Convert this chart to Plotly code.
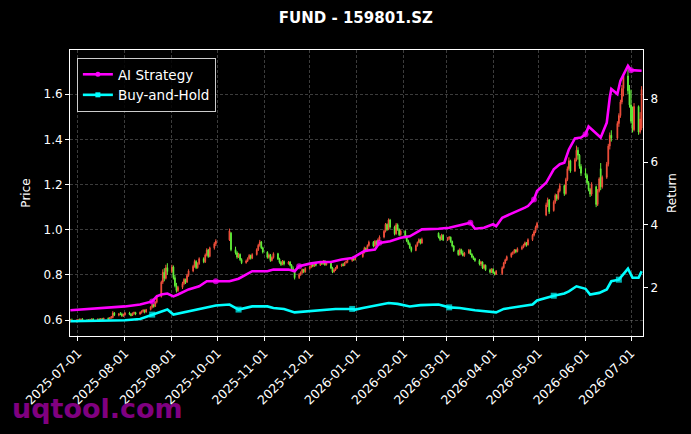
import plotly.graph_objects as go
import pandas as pd

# trading days (exchange holidays removed)
holidays = ["2025-10-01", "2025-10-02", "2025-10-03", "2025-10-06", "2025-10-07", "2025-10-08",
            "2026-01-01", "2026-01-02",
            "2026-02-16", "2026-02-17", "2026-02-18", "2026-02-19", "2026-02-20", "2026-02-23",
            "2026-04-06", "2026-05-01", "2026-05-04", "2026-05-05", "2026-06-19"]
days = pd.bdate_range("2025-06-26", "2026-07-08")
days = days[~days.isin(pd.to_datetime(holidays))]

opens = [
    0.597, 0.601, 0.596,
    0.599, 0.602, 0.598, 0.604, 0.600, 0.596, 0.602, 0.599, 0.605, 0.601, 0.604, 0.600, 0.606, 0.603, 0.608, 0.605, 0.611, 0.612, 0.632, 0.622, 0.628, 0.627, 0.619,
    0.624, 0.631, 0.626, 0.621, 0.630, 0.634, 0.627, 0.635, 0.640, 0.644, 0.636, 0.647, 0.658, 0.669, 0.661, 0.679, 0.705, 0.768, 0.812, 0.785, 0.832,
    0.815, 0.835, 0.788, 0.752, 0.731, 0.745, 0.762, 0.780, 0.768, 0.798, 0.818, 0.838, 0.860, 0.832, 0.850, 0.872, 0.858, 0.888, 0.910, 0.882, 0.920, 0.938,
    0.955, 0.985, 0.912, 0.898, 0.879, 0.891, 0.868, 0.854, 0.862, 0.872, 0.886, 0.874, 0.890, 0.912, 0.931, 0.946, 0.920,
    0.901, 0.878, 0.889, 0.864, 0.877, 0.894, 0.871, 0.856, 0.846, 0.860, 0.849, 0.857, 0.843, 0.828, 0.818, 0.788, 0.802, 0.811, 0.824, 0.814,
    0.829, 0.835, 0.846, 0.839, 0.850, 0.843, 0.856, 0.849, 0.862, 0.845, 0.855, 0.831, 0.814, 0.822, 0.830, 0.841, 0.846, 0.842, 0.855, 0.860, 0.864, 0.871, 0.868,
    0.881, 0.900, 0.918, 0.907, 0.930, 0.945, 0.928, 0.949, 0.937, 0.956, 0.968, 0.993, 1.024, 1.001, 1.043, 1.012, 0.982, 1.022, 1.001, 0.978,
    0.994, 0.968, 0.950, 0.938, 0.921, 0.908, 0.930, 0.944, 0.956, 0.941, 0.985, 0.968, 0.957, 0.976,
    0.955, 0.962, 0.967, 0.948, 0.928, 0.908, 0.890, 0.912, 0.896, 0.886, 0.897, 0.909, 0.892, 0.879, 0.872, 0.864, 0.848, 0.857, 0.831, 0.843, 0.823, 0.812,
    0.825, 0.810, 0.803, 0.806, 0.832, 0.853, 0.867, 0.881, 0.895, 0.899, 0.910, 0.903, 0.916, 0.922, 0.932, 0.942, 0.933, 0.956, 0.976, 0.991, 1.010,
    1.065, 1.110, 1.132, 1.085, 1.122, 1.152, 1.138, 1.172, 1.195, 1.160, 1.222, 1.270, 1.305, 1.260, 1.310, 1.352, 1.330, 1.280,
    1.250, 1.240, 1.208, 1.178, 1.158, 1.190, 1.112, 1.172, 1.270, 1.190, 1.232, 1.290, 1.370, 1.418, 1.405, 1.470, 1.505, 1.565, 1.625, 1.680, 1.615,
    1.552, 1.480, 1.442, 1.545, 1.432, 1.450,
]
highs = [
    0.606, 0.607, 0.603,
    0.606, 0.607, 0.608, 0.609, 0.604, 0.605, 0.606, 0.608, 0.609, 0.607, 0.608, 0.609, 0.610, 0.611, 0.612, 0.614, 0.618, 0.640, 0.636, 0.631, 0.636, 0.633, 0.629,
    0.636, 0.637, 0.632, 0.634, 0.638, 0.637, 0.638, 0.643, 0.648, 0.647, 0.650, 0.662, 0.674, 0.672, 0.684, 0.712, 0.775, 0.825, 0.830, 0.845, 0.852,
    0.845, 0.842, 0.800, 0.765, 0.752, 0.770, 0.786, 0.784, 0.805, 0.825, 0.845, 0.868, 0.865, 0.856, 0.878, 0.878, 0.895, 0.918, 0.915, 0.925, 0.945, 0.958,
    1.005, 0.990, 0.925, 0.905, 0.898, 0.895, 0.874, 0.868, 0.878, 0.892, 0.890, 0.896, 0.918, 0.938, 0.955, 0.950, 0.925,
    0.905, 0.895, 0.893, 0.882, 0.900, 0.898, 0.876, 0.862, 0.866, 0.864, 0.862, 0.861, 0.848, 0.838, 0.822, 0.808, 0.816, 0.828, 0.827, 0.834,
    0.840, 0.850, 0.849, 0.853, 0.853, 0.860, 0.859, 0.866, 0.865, 0.860, 0.858, 0.836, 0.828, 0.835, 0.845, 0.850, 0.853, 0.858, 0.864, 0.868, 0.875, 0.880, 0.886,
    0.905, 0.925, 0.922, 0.935, 0.952, 0.950, 0.955, 0.953, 0.962, 0.975, 1.000, 1.030, 1.028, 1.050, 1.048, 1.018, 1.030, 1.028, 1.006, 1.000,
    0.998, 0.975, 0.956, 0.944, 0.926, 0.935, 0.948, 0.962, 0.960, 0.965, 0.988, 0.975, 0.982, 0.980,
    0.968, 0.972, 0.970, 0.952, 0.932, 0.912, 0.918, 0.916, 0.908, 0.902, 0.915, 0.913, 0.896, 0.885, 0.876, 0.870, 0.862, 0.860, 0.848, 0.846, 0.828, 0.830,
    0.830, 0.815, 0.822, 0.838, 0.858, 0.872, 0.886, 0.900, 0.905, 0.915, 0.914, 0.922, 0.930, 0.938, 0.948, 0.946, 0.962, 0.982, 0.998, 1.018, 1.035,
    1.120, 1.142, 1.136, 1.130, 1.160, 1.158, 1.182, 1.205, 1.200, 1.230, 1.280, 1.320, 1.310, 1.318, 1.372, 1.365, 1.335, 1.290,
    1.272, 1.248, 1.215, 1.185, 1.210, 1.195, 1.180, 1.232, 1.295, 1.240, 1.300, 1.380, 1.430, 1.440, 1.480, 1.515, 1.575, 1.640, 1.690, 1.720, 1.640,
    1.620, 1.545, 1.560, 1.550, 1.520, 1.635,
]
lows = [
    0.590, 0.593, 0.590,
    0.594, 0.595, 0.596, 0.597, 0.592, 0.594, 0.595, 0.597, 0.598, 0.597, 0.598, 0.599, 0.600, 0.601, 0.602, 0.603, 0.606, 0.608, 0.618, 0.617, 0.622, 0.615, 0.614,
    0.620, 0.622, 0.617, 0.619, 0.624, 0.622, 0.624, 0.629, 0.633, 0.630, 0.633, 0.643, 0.652, 0.655, 0.658, 0.674, 0.700, 0.760, 0.772, 0.780, 0.800,
    0.808, 0.780, 0.745, 0.722, 0.725, 0.738, 0.755, 0.760, 0.765, 0.792, 0.812, 0.832, 0.826, 0.828, 0.845, 0.852, 0.853, 0.882, 0.876, 0.878, 0.912, 0.928,
    0.950, 0.905, 0.890, 0.872, 0.875, 0.862, 0.848, 0.850, 0.857, 0.868, 0.868, 0.870, 0.886, 0.906, 0.925, 0.914, 0.895,
    0.872, 0.872, 0.858, 0.860, 0.872, 0.866, 0.850, 0.840, 0.843, 0.842, 0.846, 0.838, 0.822, 0.812, 0.780, 0.782, 0.796, 0.805, 0.808, 0.810,
    0.823, 0.830, 0.834, 0.835, 0.838, 0.840, 0.844, 0.846, 0.840, 0.842, 0.826, 0.808, 0.810, 0.818, 0.826, 0.836, 0.838, 0.839, 0.850, 0.852, 0.858, 0.862, 0.864,
    0.876, 0.895, 0.900, 0.903, 0.925, 0.922, 0.925, 0.932, 0.934, 0.950, 0.962, 0.988, 0.995, 0.998, 1.005, 0.975, 0.978, 0.995, 0.972, 0.974,
    0.962, 0.945, 0.932, 0.915, 0.900, 0.905, 0.925, 0.940, 0.935, 0.938, 0.962, 0.950, 0.954, 0.950,
    0.950, 0.955, 0.942, 0.922, 0.902, 0.885, 0.886, 0.890, 0.882, 0.880, 0.893, 0.888, 0.874, 0.866, 0.858, 0.842, 0.840, 0.826, 0.825, 0.818, 0.806, 0.808,
    0.805, 0.798, 0.800, 0.800, 0.828, 0.848, 0.862, 0.876, 0.888, 0.894, 0.896, 0.900, 0.910, 0.918, 0.926, 0.925, 0.930, 0.950, 0.970, 0.985, 1.004,
    1.060, 1.100, 1.070, 1.080, 1.115, 1.128, 1.132, 1.165, 1.150, 1.155, 1.215, 1.262, 1.252, 1.255, 1.302, 1.310, 1.270, 1.238,
    1.228, 1.200, 1.170, 1.145, 1.150, 1.100, 1.105, 1.165, 1.175, 1.182, 1.225, 1.280, 1.355, 1.390, 1.398, 1.455, 1.495, 1.555, 1.590, 1.600, 1.540,
    1.470, 1.430, 1.435, 1.420, 1.425, 1.440,
]
closes = [
    0.601, 0.596, 0.599,
    0.602, 0.598, 0.604, 0.600, 0.596, 0.602, 0.599, 0.605, 0.601, 0.604, 0.600, 0.606, 0.603, 0.608, 0.605, 0.611, 0.615, 0.632, 0.622, 0.628, 0.625, 0.619, 0.624,
    0.631, 0.626, 0.621, 0.630, 0.634, 0.627, 0.635, 0.640, 0.644, 0.636, 0.647, 0.658, 0.669, 0.661, 0.679, 0.705, 0.768, 0.812, 0.785, 0.832, 0.815,
    0.835, 0.788, 0.752, 0.731, 0.745, 0.762, 0.780, 0.768, 0.798, 0.818, 0.838, 0.860, 0.832, 0.850, 0.872, 0.858, 0.888, 0.910, 0.882, 0.920, 0.938, 0.950,
    0.995, 0.912, 0.898, 0.879, 0.891, 0.868, 0.854, 0.862, 0.872, 0.886, 0.874, 0.890, 0.912, 0.931, 0.946, 0.920, 0.901,
    0.878, 0.889, 0.864, 0.877, 0.894, 0.871, 0.856, 0.846, 0.860, 0.849, 0.857, 0.843, 0.828, 0.818, 0.788, 0.802, 0.811, 0.824, 0.814, 0.829,
    0.835, 0.846, 0.839, 0.850, 0.843, 0.856, 0.849, 0.862, 0.845, 0.855, 0.831, 0.814, 0.822, 0.830, 0.841, 0.846, 0.842, 0.855, 0.860, 0.864, 0.871, 0.868, 0.881,
    0.900, 0.918, 0.907, 0.930, 0.945, 0.928, 0.949, 0.937, 0.956, 0.968, 0.993, 1.024, 1.001, 1.043, 1.012, 0.982, 1.022, 1.001, 0.978, 0.994,
    0.968, 0.950, 0.938, 0.921, 0.908, 0.930, 0.944, 0.956, 0.941, 0.958, 0.968, 0.957, 0.976, 0.955,
    0.962, 0.967, 0.948, 0.928, 0.908, 0.890, 0.912, 0.896, 0.886, 0.897, 0.909, 0.892, 0.879, 0.872, 0.864, 0.848, 0.857, 0.831, 0.843, 0.823, 0.812, 0.825,
    0.810, 0.803, 0.816, 0.832, 0.853, 0.867, 0.881, 0.895, 0.899, 0.910, 0.903, 0.916, 0.922, 0.932, 0.942, 0.933, 0.956, 0.976, 0.991, 1.010, 1.028,
    1.110, 1.132, 1.080, 1.122, 1.152, 1.138, 1.172, 1.195, 1.160, 1.222, 1.270, 1.305, 1.260, 1.310, 1.352, 1.330, 1.280, 1.250,
    1.240, 1.208, 1.178, 1.158, 1.200, 1.112, 1.172, 1.225, 1.190, 1.232, 1.290, 1.370, 1.418, 1.405, 1.470, 1.505, 1.565, 1.625, 1.680, 1.615, 1.552,
    1.480, 1.442, 1.545, 1.432, 1.490, 1.620,
]

ai_dates = ["2025-06-26", "2025-07-22", "2025-08-01", "2025-08-11", "2025-08-19", "2025-08-22", "2025-08-25",
            "2025-08-29", "2025-09-02", "2025-09-05", "2025-09-12", "2025-09-19", "2025-09-24", "2025-09-30",
            "2025-10-09", "2025-10-15", "2025-10-20", "2025-10-24", "2025-11-03", "2025-11-07", "2025-11-17",
            "2025-11-21", "2025-11-24", "2025-12-01", "2025-12-08", "2025-12-15", "2025-12-22", "2025-12-29",
            "2025-12-31", "2026-01-06", "2026-01-13", "2026-01-16", "2026-01-23", "2026-01-30", "2026-02-05",
            "2026-02-10", "2026-02-13", "2026-02-24", "2026-03-03", "2026-03-10", "2026-03-17", "2026-03-20",
            "2026-03-26", "2026-04-01", "2026-04-03", "2026-04-07", "2026-04-15", "2026-04-22", "2026-04-24",
            "2026-04-28", "2026-04-30", "2026-05-06", "2026-05-11", "2026-05-15", "2026-05-18", "2026-05-21",
            "2026-05-25", "2026-05-29", "2026-06-01", "2026-06-03", "2026-06-11", "2026-06-15", "2026-06-17",
            "2026-06-18", "2026-06-22", "2026-06-24", "2026-06-29", "2026-07-01", "2026-07-08"]
ai_return = [1.29, 1.38, 1.41, 1.47, 1.57, 1.73, 1.79,
             1.82, 1.73, 1.79, 1.95, 2.05, 2.21, 2.21,
             2.21, 2.29, 2.42, 2.53, 2.53, 2.58, 2.58,
             2.53, 2.69, 2.77, 2.82, 2.82, 2.90, 2.95,
             3.00, 3.17, 3.22, 3.43, 3.48, 3.59, 3.64,
             3.77, 3.86, 3.88, 3.91, 3.99, 4.07, 3.88,
             3.91, 4.02, 3.96, 4.23, 4.39, 4.55, 4.60,
             4.81, 5.08, 5.34, 5.77, 5.93, 5.98, 6.40,
             6.75, 6.78, 6.88, 7.13, 6.78, 7.25, 8.05,
             8.32, 8.16, 8.58, 9.06, 8.92, 8.90]

bh_dates = ["2025-06-26", "2025-07-22", "2025-08-01", "2025-08-11", "2025-08-19", "2025-08-25", "2025-08-29",
            "2025-09-02", "2025-09-05", "2025-09-12", "2025-09-19", "2025-09-30", "2025-10-09", "2025-10-15",
            "2025-10-24", "2025-11-03", "2025-11-07", "2025-11-14", "2025-11-21", "2025-11-28", "2025-12-08",
            "2025-12-18", "2025-12-29", "2025-12-31", "2026-01-05", "2026-01-15", "2026-01-22", "2026-01-28",
            "2026-02-05", "2026-02-12", "2026-02-24", "2026-03-03", "2026-03-10", "2026-03-20", "2026-03-30",
            "2026-04-03", "2026-04-08", "2026-04-20", "2026-04-27", "2026-04-30", "2026-05-11", "2026-05-18",
            "2026-05-21", "2026-05-26", "2026-06-01", "2026-06-04", "2026-06-10", "2026-06-15", "2026-06-18",
            "2026-06-23", "2026-06-29", "2026-07-02", "2026-07-06", "2026-07-08"]
bh_return = [0.94, 0.96, 0.97, 1.01, 1.15, 1.25, 1.31,
             1.15, 1.18, 1.25, 1.33, 1.44, 1.47, 1.31,
             1.41, 1.41, 1.36, 1.33, 1.22, 1.25, 1.31,
             1.33, 1.33, 1.31, 1.36, 1.45, 1.52, 1.49,
             1.41, 1.45, 1.47, 1.38, 1.36, 1.29, 1.25,
             1.22, 1.33, 1.41, 1.47, 1.60, 1.75, 1.82,
             1.89, 2.05, 1.97, 1.79, 1.84, 1.95, 2.21,
             2.26, 2.61, 2.32, 2.32, 2.53]

RED = "#f2503c"
GREEN = "#62f03a"
MAGENTA = "#ff00ff"
CYAN = "#00ffff"
GRID = "rgba(150,150,150,0.4)"


def sparse_markers(n, every=9):
    return [6 if i % every == 4 else 0 for i in range(n)]


fig = go.Figure()

fig.add_trace(go.Candlestick(
    x=days, open=opens, high=highs, low=lows, close=closes,
    increasing=dict(line=dict(color=RED, width=1), fillcolor=RED),
    decreasing=dict(line=dict(color=GREEN, width=1), fillcolor=GREEN),
    whiskerwidth=0, showlegend=False,
))

fig.add_trace(go.Scatter(
    x=ai_dates, y=ai_return, yaxis="y2", mode="lines+markers", showlegend=False,
    line=dict(color=MAGENTA, width=2.6),
    marker=dict(symbol="circle", size=sparse_markers(len(ai_dates)), color=MAGENTA, line=dict(width=0)),
))
fig.add_trace(go.Scatter(
    x=bh_dates, y=bh_return, yaxis="y2", mode="lines+markers", showlegend=False,
    line=dict(color=CYAN, width=2.6),
    marker=dict(symbol="square", size=sparse_markers(len(bh_dates)), color=CYAN, line=dict(width=0)),
))

# legend entries
fig.add_trace(go.Scatter(x=[None], y=[None], yaxis="y2", mode="lines+markers", name="AI Strategy",
                         line=dict(color=MAGENTA, width=2.6), marker=dict(symbol="circle", size=5)))
fig.add_trace(go.Scatter(x=[None], y=[None], yaxis="y2", mode="lines+markers", name="Buy-and-Hold",
                         line=dict(color=CYAN, width=2.6), marker=dict(symbol="square", size=5)))

axis_common = dict(
    showline=True, linecolor="white", linewidth=1,
    ticks="outside", tickcolor="white", ticklen=4, zeroline=False,
)

fig.update_layout(
    width=691, height=434,
    paper_bgcolor="black", plot_bgcolor="black",
    margin=dict(l=70, r=48, t=50, b=98),
    font=dict(family="DejaVu Sans", color="white", size=12),
    title=dict(text="<b>FUND - 159801.SZ</b>", x=0.515, xanchor="center",
               y=0.958, yanchor="middle", font=dict(size=15, color="white")),
    xaxis=dict(
        type="date", range=["2025-06-25 18:00", "2026-07-08 22:00"],
        tick0="2025-07-01", dtick="M1", tickformat="%Y-%m-%d", tickangle=-45,
        tickfont=dict(size=12.5, color="white"),
        showgrid=True, gridcolor=GRID, griddash="3px,2px", gridwidth=0.6,
        mirror=True, rangeslider=dict(visible=False), **axis_common,
    ),
    yaxis=dict(
        title=dict(text="Price", font=dict(size=12), standoff=10), range=[0.53, 1.795],
        tick0=0.6, dtick=0.2, tickformat=".1f", tickfont=dict(size=12, color="white"),
        showgrid=True, gridcolor=GRID, griddash="3px,2px", gridwidth=0.6,
        mirror=True, **axis_common,
    ),
    yaxis2=dict(
        title=dict(text="Return", font=dict(size=12), standoff=10), overlaying="y", side="right",
        range=[0.47, 9.56], tick0=2, dtick=2, showgrid=False,
        tickfont=dict(size=12, color="white"), **axis_common,
    ),
    legend=dict(
        x=0.012, y=0.972, xanchor="left", yanchor="top",
        bgcolor="rgba(0,0,0,0.85)", bordercolor="#cccccc", borderwidth=1,
        font=dict(size=13.5, color="white"), tracegroupgap=0,
    ),
    annotations=[dict(
        text="<b>uqtool.com</b>", xref="paper", yref="paper",
        x=-0.105, y=-0.252, xanchor="left", yanchor="middle", showarrow=False,
        font=dict(size=27, color="#800080"),
    )],
)

# drop the default page margin so the figure sits at the window origin
fig.write_html("out.html", config={"displayModeBar": False},
               post_script="document.body.style.margin='0';")
